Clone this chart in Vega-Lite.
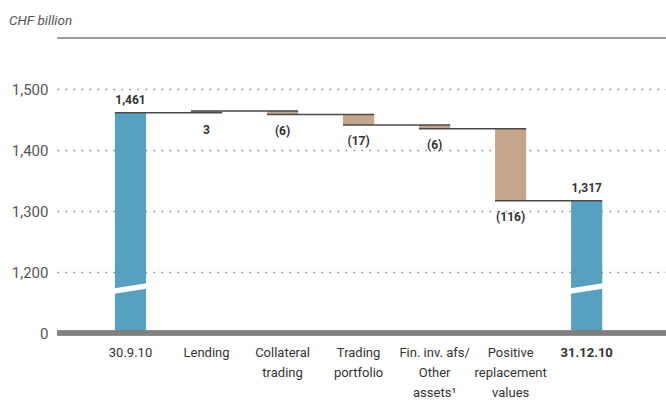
{
  "$schema": "https://vega.github.io/schema/vega-lite/v6.json",
  "width": 609,
  "height": 244,
  "autosize": {"type": "none"},
  "padding": {"left": 57, "top": 89, "right": 0, "bottom": 74},
  "background": "white",
  "config": {"view": {"stroke": null}, "font": "Roboto"},
  "title": {
    "text": "CHF billion",
    "anchor": "start",
    "frame": "group",
    "orient": "top",
    "dx": -48,
    "offset": 10,
    "font": "Roboto",
    "fontSize": 13.5,
    "fontStyle": "italic",
    "fontWeight": "normal",
    "color": "#555555"
  },
  "data": {
    "values": [
      {"cat": "30.9.10", "start": 0, "end": 1461, "label": "1,461", "type": "total", "next": "Lending"},
      {"cat": "Lending", "start": 1461, "end": 1464, "label": "3", "type": "up", "next": "Collateral|trading"},
      {"cat": "Collateral|trading", "start": 1464, "end": 1458, "label": "(6)", "type": "down", "next": "Trading|portfolio"},
      {"cat": "Trading|portfolio", "start": 1458, "end": 1441, "label": "(17)", "type": "down", "next": "Fin. inv. afs/|Other|assets¹"},
      {"cat": "Fin. inv. afs/|Other|assets¹", "start": 1441, "end": 1435, "label": "(6)", "type": "down", "next": "Positive|replacement|values"},
      {"cat": "Positive|replacement|values", "start": 1435, "end": 1317, "label": "(116)", "type": "down", "next": "31.12.10"},
      {"cat": "31.12.10", "start": 0, "end": 1317, "label": "1,317", "type": "total", "next": null}
    ]
  },
  "layer": [
    {
      "mark": {"type": "rule", "color": "#9a9a9a", "strokeWidth": 1.3},
      "encoding": {"y": {"datum": 1584, "type": "quantitative"}}
    },
    {
      "mark": {"type": "bar", "clip": true},
      "encoding": {
        "x": {
          "field": "cat",
          "type": "nominal",
          "scale": {
            "domain": ["30.9.10", "Lending", "Collateral|trading", "Trading|portfolio", "Fin. inv. afs/|Other|assets¹", "Positive|replacement|values", "31.12.10"],
            "paddingInner": 0.59,
            "paddingOuter": 0.8,
            "align": 0.476
          },
          "axis": {
            "title": null,
            "domain": false,
            "ticks": false,
            "labelAngle": 0,
            "labelPadding": 13,
            "labelFont": "Roboto",
            "labelFontSize": 13,
            "labelColor": "#333333",
            "labelLineHeight": 20,
            "labelLimit": 200,
            "labelOverlap": false,
            "labelExpr": "split(datum.label, '|')",
            "labelFontWeight": {"condition": {"test": "datum.value == '31.12.10'", "value": "bold"}, "value": "normal"}
          }
        },
        "y": {
          "field": "start",
          "type": "quantitative",
          "scale": {"domain": [1100, 1500], "nice": false, "zero": false},
          "axis": {
            "title": null,
            "values": [1100, 1150, 1200, 1250, 1300, 1350, 1400, 1450, 1500],
            "labelExpr": "datum.value == 1100 ? '0' : (datum.value % 100 == 0 ? format(datum.value, ',') : '')",
            "domain": false,
            "ticks": false,
            "labelPadding": 9,
            "labelFont": "Roboto",
            "labelFontSize": 15,
            "labelColor": "#555555",
            "grid": true,
            "gridDash": [1.5, 6.5],
            "gridColor": "#8a8a8a",
            "gridWidth": 1.3
          }
        },
        "y2": {"field": "end"},
        "color": {
          "field": "type",
          "type": "nominal",
          "scale": {"domain": ["total", "up", "down"], "range": ["#56A1C0", "#C4A68C", "#C4A68C"]},
          "legend": null
        }
      }
    },
    {
      "mark": {"type": "rule", "color": "#808080", "strokeWidth": 4.5},
      "encoding": {"y": {"datum": 1100, "type": "quantitative"}}
    },
    {
      "transform": [{"filter": "datum.next != null"}],
      "mark": {"type": "rule", "color": "#4a4a4a", "strokeWidth": 1.5},
      "encoding": {
        "x": {"field": "cat", "type": "nominal", "bandPosition": 0},
        "x2": {"field": "next", "bandPosition": 1},
        "y": {"field": "end", "type": "quantitative"}
      }
    },
    {
      "transform": [{"filter": "datum.type == 'total'"}],
      "mark": {"type": "point", "shape": "M-1,-0.015L1,-0.33L1,0.015L-1,0.33Z", "filled": true, "fill": "white", "strokeWidth": 0, "opacity": 1, "size": 1024},
      "encoding": {
        "x": {"field": "cat", "type": "nominal"},
        "y": {"datum": 1173, "type": "quantitative"}
      }
    },
    {
      "transform": [{"filter": "datum.type == 'total'"}],
      "mark": {"type": "text", "font": "Roboto", "fontSize": 12, "fontWeight": "bold", "color": "#333333", "baseline": "middle", "dy": -13},
      "encoding": {
        "x": {"field": "cat", "type": "nominal"},
        "y": {"field": "end", "type": "quantitative"},
        "text": {"field": "label"}
      }
    },
    {
      "transform": [{"filter": "datum.type == 'down'"}],
      "mark": {"type": "text", "font": "Roboto", "fontSize": 12, "fontWeight": "bold", "color": "#333333", "baseline": "middle", "dy": 16},
      "encoding": {
        "x": {"field": "cat", "type": "nominal"},
        "y": {"field": "end", "type": "quantitative"},
        "text": {"field": "label"}
      }
    },
    {
      "transform": [{"filter": "datum.type == 'up'"}],
      "mark": {"type": "text", "font": "Roboto", "fontSize": 12, "fontWeight": "bold", "color": "#333333", "baseline": "middle", "dy": 17},
      "encoding": {
        "x": {"field": "cat", "type": "nominal"},
        "y": {"field": "start", "type": "quantitative"},
        "text": {"field": "label"}
      }
    }
  ]
}
